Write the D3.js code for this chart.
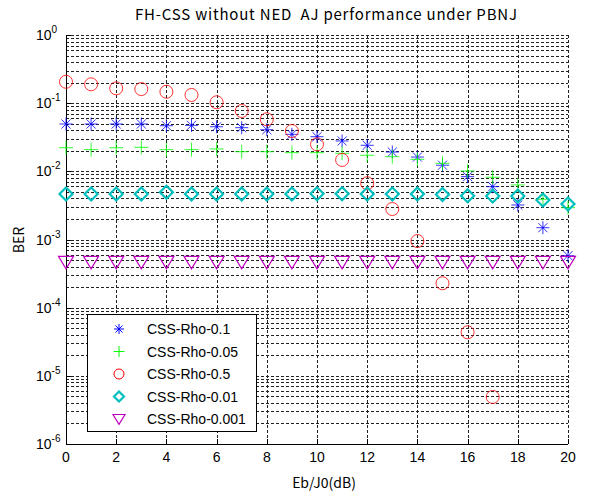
<!DOCTYPE html>
<html>
<head>
<meta charset="utf-8">
<script src="https://cdn.jsdelivr.net/npm/d3@7"></script>
<style>
  body { margin: 0; background: #fff; }
  .grid line { stroke: #222; stroke-width: 1; stroke-dasharray: 3,2; shape-rendering: crispEdges; }
  .tick-label { font-family: "Liberation Sans", Arial, sans-serif; font-size: 14px; fill: #000; }
  .legend text { font-family: "Liberation Sans", Arial, sans-serif; font-size: 14px; fill: #000; }
</style>
</head>
<body>
<script>
// Eb/J0 values (dB)
const ebj0 = d3.range(0, 21)

const rho01 = [0.0495, 0.0495, 0.0495, 0.0495, 0.0467, 0.0473, 0.0451, 0.0437, 0.0408, 0.0349,
    0.0322, 0.0279, 0.0241, 0.0192, 0.0162, 0.0123, 0.00835, 0.00596, 0.00321, 0.00149, 0.000578]
const rho005 = [0.0222, 0.0208, 0.0222, 0.0225, 0.0208, 0.0208, 0.0213, 0.0194, 0.0194, 0.0188,
    0.0188, 0.0184, 0.0172, 0.0164, 0.0150, 0.0131, 0.0101, 0.00818, 0.00631, 0.00389, 0.00293]
const rho05 = [0.206, 0.189, 0.165, 0.161, 0.147, 0.132, 0.103, 0.0768, 0.058, 0.039,
    0.0249, 0.0147, 0.00668, 0.0028, 0.00095, 0.000228, 4.35e-5, 4.9e-6]
const rho001 = [0.00465, 0.00465, 0.00465, 0.00465, 0.00493, 0.00465, 0.00465, 0.00465, 0.00465, 0.00465,
    0.0047, 0.0047, 0.00465, 0.00465, 0.00465, 0.00458, 0.00439, 0.00435, 0.00435, 0.0038, 0.00332]
const rho0001 = [0.000468, 0.000468, 0.000468, 0.000468, 0.000468, 0.000468, 0.000468, 0.000468, 0.000468, 0.000468,
    0.000468, 0.000468, 0.000468, 0.000468, 0.000468, 0.000468, 0.000468, 0.000468, 0.000468, 0.000468, 0.000468]

const seriesNames = ["CSS-Rho-0.1", "CSS-Rho-0.05", "CSS-Rho-0.5", "CSS-Rho-0.01", "CSS-Rho-0.001"]
const seriesValues = [rho01, rho005, rho05, rho001, rho0001]
const seriesColors = ["#0000ff", "#00ff00", "#ff0000", "#00bfbf", "#bf00bf"]
const seriesMarkers = ["star", "plus", "circle", "diamond", "triangle"]

const xTicks = d3.range(0, 21, 2)
const yDecades = [0, -1, -2, -3, -4, -5, -6]

const width = 591, height = 496
const svg = d3.select("body").append("svg")
    .attr("width", width)
    .attr("height", height)

const x = d3.scaleLinear().domain([0, 20]).range([66, 568])
const y = d3.scaleLog().domain([1e-6, 1]).range([444, 35])

// grid
const grid = svg.append("g").attr("class", "grid")
let yGrid = []
for (let e = -6; e < 0; e++) {
    for (let m = 1; m <= 9; m++) yGrid.push(m * Math.pow(10, e))
}
yGrid.push(1)
grid.selectAll("line.h").data(yGrid.filter(v => v > 1e-6)).enter().append("line")
    .attr("x1", x(0)).attr("x2", x(20))
    .attr("y1", d => Math.round(y(d)) + 0.5).attr("y2", d => Math.round(y(d)) + 0.5)
grid.selectAll("line.v").data(xTicks.filter(v => v > 0)).enter().append("line")
    .attr("x1", d => Math.round(x(d)) + 0.5).attr("x2", d => Math.round(x(d)) + 0.5)
    .attr("y1", y(1)).attr("y2", y(1e-6))

// axes (left + bottom only)
const axes = svg.append("g").attr("stroke", "#000").attr("shape-rendering", "crispEdges")
axes.append("line").attr("x1", x(0) + 0.5).attr("x2", x(0) + 0.5).attr("y1", y(1)).attr("y2", y(1e-6))
axes.append("line").attr("x1", x(0)).attr("x2", x(20)).attr("y1", y(1e-6) + 0.5).attr("y2", y(1e-6) + 0.5)
axes.selectAll("line.xt").data(xTicks).enter().append("line")
    .attr("x1", d => Math.round(x(d)) + 0.5).attr("x2", d => Math.round(x(d)) + 0.5)
    .attr("y1", y(1e-6)).attr("y2", y(1e-6) - 5)
axes.selectAll("line.yt").data(yDecades).enter().append("line")
    .attr("x1", x(0)).attr("x2", x(0) + 5)
    .attr("y1", d => Math.round(y(Math.pow(10, d))) + 0.5).attr("y2", d => Math.round(y(Math.pow(10, d))) + 0.5)

// tick labels
svg.selectAll("text.xl").data(xTicks).enter().append("text")
    .attr("class", "tick-label")
    .attr("x", d => x(d)).attr("y", 462)
    .attr("text-anchor", "middle")
    .text(d => d)

const yl = svg.selectAll("text.yl").data(yDecades).enter().append("text")
    .attr("class", "tick-label")
    .attr("x", 36).attr("y", d => y(Math.pow(10, d)) + 5)
yl.append("tspan").text("10")
yl.append("tspan").attr("dy", -7).style("font-size", "10px").text(d => d)

// titles
svg.append("text")
    .attr("x", 326).attr("y", 20)
    .attr("text-anchor", "middle")
    .attr("textLength", 382)
    .attr("lengthAdjust", "spacing")
    .style("white-space", "pre")
    .style("font-family", "'Noto Sans CJK KR', 'Noto Sans', sans-serif")
    .style("font-size", "15px")
    .text("FH-CSS without NED  AJ performance under PBNJ")
svg.append("text")
    .attr("x", 324).attr("y", 488)
    .attr("text-anchor", "middle")
    .style("font-family", "'Noto Sans CJK KR', 'Noto Sans', sans-serif")
    .style("font-size", "14px")
    .text("Eb/J0(dB)")
svg.append("text")
    .attr("transform", "translate(24, 240) rotate(-90)")
    .attr("text-anchor", "middle")
    .style("font-family", "'Noto Sans CJK KR', 'Noto Sans', sans-serif")
    .style("font-size", "14px")
    .text("BER")

// markers
function markerPath(type, s) {
    const h = s / 2
    switch (type) {
        case "star": {
            const d = h * 0.7
            return `M${-h},0H${h}M0,${-h}V${h}M${-d},${-d}L${d},${d}M${-d},${d}L${d},${-d}`
        }
        case "plus":
            return `M${-h},0H${h}M0,${-h}V${h}`
        case "circle":
            return `M${h},0A${h},${h} 0 1,1 ${-h},0A${h},${h} 0 1,1 ${h},0Z`
        case "diamond":
            return `M0,${-h}L${h},0L0,${h}L${-h},0Z`
        case "triangle":
            return `M${-h},${-h * 0.75}L${h},${-h * 0.75}L0,${h * 0.9}Z`
    }
}
const markerSize = { star: 13, plus: 14, circle: 13, diamond: 13, triangle: 15 }
const markerWidth = { star: 1, plus: 1, circle: 1, diamond: 2.2, triangle: 1.2 }

const plot = svg.append("g")
seriesValues.forEach((vals, i) => {
    const m = seriesMarkers[i]
    plot.append("g").selectAll("path").data(vals).enter().append("path")
        .attr("transform", (d, j) => `translate(${x(ebj0[j])},${y(d)})`)
        .attr("d", markerPath(m, markerSize[m]))
        .attr("fill", "none")
        .attr("stroke", seriesColors[i])
        .attr("stroke-width", markerWidth[m])
        .attr("opacity", m === "star" || m === "plus" || m === "circle" ? 0.8 : 1)
})

// legend
const legend = svg.append("g").attr("class", "legend")
legend.append("rect")
    .attr("x", 87.5).attr("y", 314.5).attr("width", 169).attr("height", 117)
    .attr("fill", "#fff").attr("stroke", "#000")
const rows = legend.selectAll("g.row").data(seriesNames).enter().append("g")
    .attr("transform", (d, i) => `translate(0, ${329 + i * 22.5})`)
rows.append("path")
    .attr("transform", "translate(119, 0)")
    .attr("d", (d, i) => markerPath(seriesMarkers[i], markerSize[seriesMarkers[i]] - 3))
    .attr("fill", "none")
    .attr("stroke", (d, i) => seriesColors[i])
    .attr("stroke-width", (d, i) => markerWidth[seriesMarkers[i]])
rows.append("text")
    .attr("x", 147).attr("y", 5)
    .text(d => d)
</script>
</body>
</html>
